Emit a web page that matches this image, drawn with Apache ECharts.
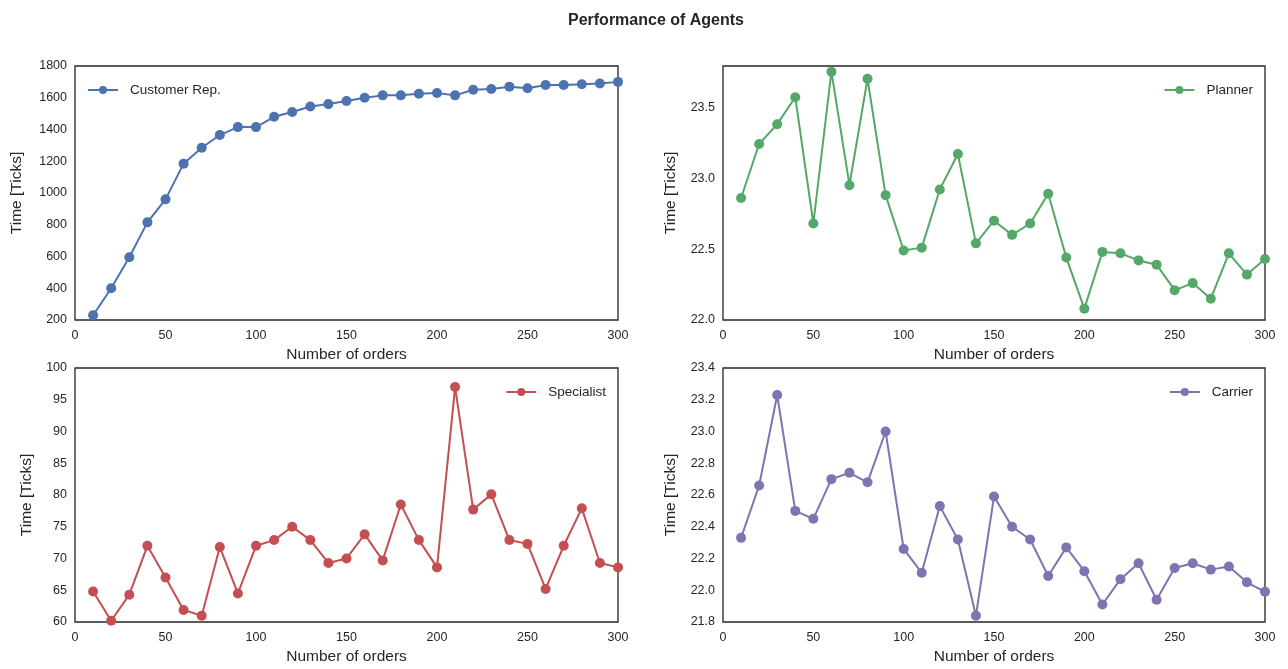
<!DOCTYPE html>
<html>
<head>
<meta charset="utf-8">
<script src="https://cdn.jsdelivr.net/npm/echarts@6/dist/echarts.min.js"></script>
<style>
html,body{margin:0;padding:0;background:#fff;}
#chart{width:1288px;height:669px;}
</style>
</head>
<body>
<div id="chart"></div>
<script>
const orders = [10,20,30,40,50,60,70,80,90,100,110,120,130,140,150,160,170,180,190,200,210,220,230,240,250,260,270,280,290,300];
const customerRep = [230,400,595,815,960,1185,1285,1365,1415,1415,1480,1510,1545,1560,1580,1600,1615,1615,1625,1630,1615,1650,1655,1670,1660,1680,1680,1685,1690,1700];
const planner = [22.86,23.24,23.38,23.57,22.68,23.75,22.95,23.70,22.88,22.49,22.51,22.92,23.17,22.54,22.70,22.60,22.68,22.89,22.44,22.08,22.48,22.47,22.42,22.39,22.21,22.26,22.15,22.47,22.32,22.43];
const specialist = [64.8,60.2,64.3,72.0,67.0,61.9,61.0,71.8,64.5,72.0,72.9,75.0,72.9,69.3,70.0,73.8,69.7,78.5,72.9,68.6,97.0,77.7,80.1,72.9,72.3,65.2,72.0,77.9,69.3,68.6];
const carrier = [22.33,22.66,23.23,22.50,22.45,22.70,22.74,22.68,23.00,22.26,22.11,22.53,22.32,21.84,22.59,22.40,22.32,22.09,22.27,22.12,21.91,22.07,22.17,21.94,22.14,22.17,22.13,22.15,22.05,21.99];

const panels = [
  {name:'Customer Rep.', data:customerRep, color:'#4C72B0', min:200, max:1800, interval:200, dec:0, legendLeft:true, grid:{left:75, top:66, width:543, height:254}, yGap:50},
  {name:'Planner', data:planner, color:'#55A868', min:22.0, max:23.79, interval:0.5, dec:1, legendLeft:false, grid:{left:723, top:66, width:542, height:254}, yGap:44},
  {name:'Specialist', data:specialist, color:'#C44E52', min:60, max:100, interval:5, dec:0, legendLeft:false, grid:{left:75, top:368, width:543, height:254}, yGap:40},
  {name:'Carrier', data:carrier, color:'#8172B2', min:21.8, max:23.4, interval:0.2, dec:1, legendLeft:false, grid:{left:723, top:368, width:542, height:254}, yGap:44}
];

const font = 'Liberation Sans, Arial, sans-serif';
const grids = [], xAxes = [], yAxes = [], series = [], legends = [];
panels.forEach((p, i) => {
  grids.push(Object.assign({show:true, borderColor:'#262626', borderWidth:1.3, backgroundColor:'#fff'}, p.grid));
  xAxes.push({
    type:'value', gridIndex:i, min:0, max:300, interval:50,
    name:'Number of orders', nameLocation:'middle', nameGap:27,
    nameTextStyle:{fontFamily:font, fontSize:15.5, color:'#262626'},
    axisLine:{show:false}, axisTick:{show:false}, splitLine:{show:false},
    axisLabel:{fontFamily:font, fontSize:12.5, color:'#262626', margin:9}
  });
  yAxes.push({
    type:'value', gridIndex:i, min:p.min, max:p.max, interval:p.interval,
    name:'Time [Ticks]', nameLocation:'middle', nameGap:p.yGap,
    nameTextStyle:{fontFamily:font, fontSize:15.5, color:'#262626'},
    axisLine:{show:false}, axisTick:{show:false}, splitLine:{show:false},
    axisLabel:{fontFamily:font, fontSize:12.5, color:'#262626', margin:8, showMaxLabel: p.name==='Planner' ? false : true,
      formatter: v => v.toFixed(p.dec)}
  });
  series.push({
    type:'line', name:p.name, xAxisIndex:i, yAxisIndex:i,
    data: orders.map((x, k) => [x, p.data[k]]),
    symbol:'circle', symbolSize:10, clip:false,
    lineStyle:{color:p.color, width:2}, itemStyle:{color:p.color},
    emphasis:{disabled:true}, animation:false
  });
  const lg = {
    data:[p.name], top:p.grid.top + 12, orient:'vertical',
    itemWidth:30, itemHeight:10, itemGap:5,
    textStyle:{fontFamily:font, fontSize:13.5, color:'#262626', padding:[0,0,0,7]},
    selectedMode:false
  };
  if (p.legendLeft) lg.left = p.grid.left + 7;
  else lg.right = 1288 - (p.grid.left + p.grid.width) + 7;
  legends.push(lg);
});

const chart = echarts.init(document.getElementById('chart'), null, {renderer:'canvas'});
chart.setOption({
  backgroundColor:'#fff',
  animation:false,
  title:{text:'Performance of Agents', left:651, textAlign:'center', top:8,
    textStyle:{fontFamily:font, fontSize:16, fontWeight:'bold', color:'#262626'}},
  legend:legends,
  grid:grids, xAxis:xAxes, yAxis:yAxes, series:series
});
</script>
</body>
</html>
